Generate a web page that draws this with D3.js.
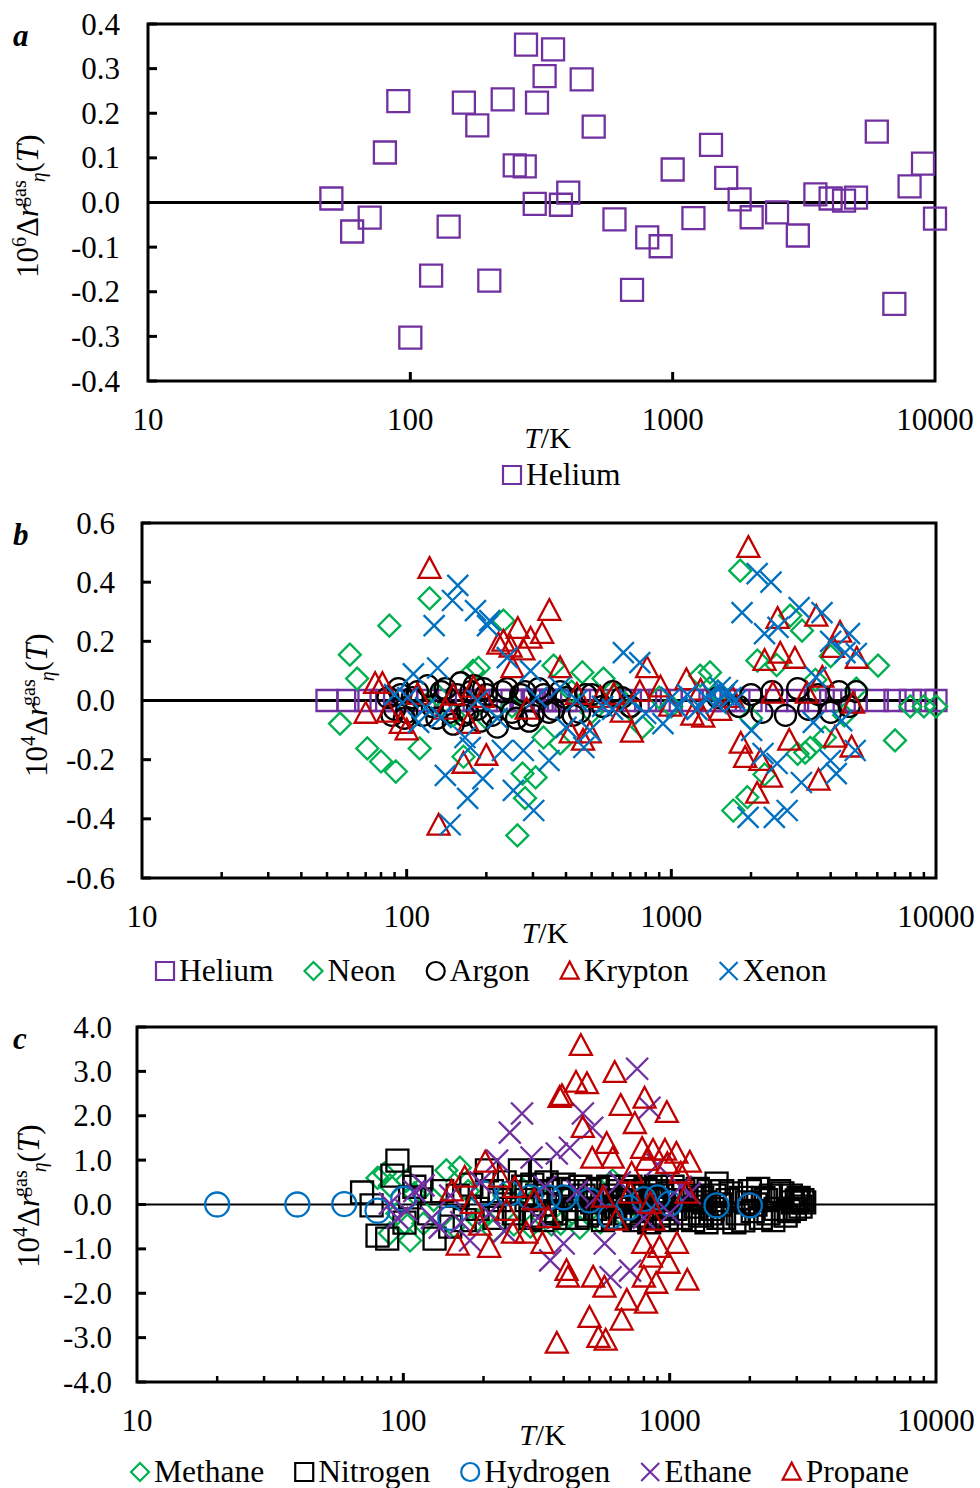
<!DOCTYPE html>
<meta charset="utf-8">
<title>Deviation plots</title>
<style>
  body { margin: 0; background: #fff; }
  text { font-family: "Liberation Serif", "Times New Roman", serif; fill: #000; }
</style>
<body>
<div id="chart"></div>
<script src="https://cdn.jsdelivr.net/npm/d3@7/dist/d3.min.js"></script>
<script>
// ---- data: [T/K, deviation] ----
const heliumA = [[50,0.009],[60,-0.065],[70,-0.034],[80,0.112],[90,0.227],[100,-0.303],[120,-0.164],[140,-0.054],[160,0.224],[180,0.173],[200,-0.175],[225,0.231],[250,0.083],[273,0.081],[276,0.354],[298,-0.003],[304,0.224],[325,0.283],[350,0.343],[375,-0.005],[400,0.022],[450,0.276],[500,0.170],[600,-0.038],[700,-0.196],[800,-0.078],[900,-0.098],[1000,0.074],[1200,-0.035],[1400,0.129],[1600,0.055],[1800,0.007],[2000,-0.033],[2500,-0.022],[3000,-0.074],[3500,0.018],[4000,0.009],[4500,0.004],[5000,0.011],[6000,0.159],[7000,-0.227],[8000,0.036],[9000,0.087],[10000,-0.036]];

const heliumB = [[50,0],[60,0],[70,0],[80,0],[90,0],[100,0],[120,0],[140,0],[160,0],[180,0],[200,0],[225,0],[250,0],[273,0],[276,0],[298,0],[304,0],[325,0],[350,0],[375,0],[400,0],[450,0],[500,0],[600,0],[700,0],[800,0],[900,0],[1000,0],[1200,0],[1400,0],[1600,0],[1800,0],[2000,0],[2500,0],[3000,0],[3500,0],[4000,0],[4500,0],[5000,0],[6000,0],[7000,0],[8000,0],[9000,0],[10000,0]];

const neon = [[56,-0.078],[61,0.155],[65,0.074],[71,-0.162],[80,-0.206],[86,0.253],[91,-0.24],[112,-0.162],[122,0.345],[130,0.02],[150,-0.05],[164,-0.19],[178,0.10],[187,0.11],[200,-0.06],[232,0.27],[250,-0.02],[262,-0.456],[274,-0.247],[280,-0.33],[307,-0.26],[329,-0.125],[359,0.118],[380,-0.145],[420,0.03],[461,0.095],[500,-0.04],[554,0.074],[620,0.02],[700,-0.03],[778,-0.09],[900,0.01],[1000,-0.02],[1285,0.084],[1400,0.095],[1500,0.03],[1714,-0.372],[1820,0.439],[1937,-0.327],[2000,-0.06],[2113,0.135],[2250,-0.25],[2500,0.12],[2812,0.287],[3000,-0.18],[3117,0.236],[3206,-0.176],[3350,-0.16],[3500,0.07],[3800,-0.125],[4000,0.15],[4500,-0.05],[5000,0.04],[6040,0.118],[7000,-0.135],[8000,-0.02],[9000,-0.02],[10000,-0.02]];

const argon = [[85,0.01],[88,-0.05],[90,-0.03],[93,0.04],[95,0.02],[98,-0.06],[100,-0.04],[105,0.01],[110,0.03],[115,-0.05],[120,0.05],[125,-0.02],[130,-0.06],[135,0.03],[140,0.04],[145,-0.04],[150,-0.08],[155,0.02],[160,0.06],[165,-0.05],[170,-0.04],[175,0.03],[180,0.05],[185,-0.03],[190,-0.07],[195,0.04],[200,0.02],[210,-0.05],[220,-0.09],[230,0.03],[240,0.04],[250,-0.04],[260,-0.06],[270,0.02],[280,0.03],[290,-0.07],[300,-0.05],[315,0.04],[330,0.02],[345,-0.04],[360,-0.03],[380,0.03],[400,0.01],[425,-0.05],[450,-0.04],[475,0.02],[500,0.02],[550,-0.02],[600,0.03],[650,0.01],[700,-0.02],[1500,0.01],[1800,-0.02],[2000,0.02],[2200,-0.04],[2400,0.03],[2700,-0.05],[3000,0.04],[3300,-0.03],[3600,0.02],[4000,-0.04],[4300,0.03],[4700,-0.02],[5000,0.03]];

const krypton = [[70,-0.044],[76,0.057],[81,0.057],[85,-0.04],[95,-0.078],[100,-0.1],[110,0.02],[122,0.446],[132,-0.422],[140,-0.03],[150,0.017],[164,-0.213],[171,-0.078],[179,0.044],[194,0.01],[200,-0.186],[222,0.19],[232,0.2],[247,0.18],[251,0.11],[263,0.243],[276,0.17],[284,-0.03],[294,0.21],[325,0.226],[346,0.304],[380,0.11],[417,-0.11],[440,0.02],[464,-0.135],[492,-0.11],[540,0.01],[606,0.02],[650,-0.04],[710,-0.108],[760,0.03],[810,0.11],[910,0.045],[990,-0.02],[1140,0.07],[1200,-0.05],[1290,0.034],[1320,-0.057],[1530,-0.034],[1700,0.01],[1830,-0.145],[1900,-0.193],[1955,0.517],[2110,-0.314],[2170,-0.203],[2250,0.135],[2380,-0.26],[2420,0.024],[2520,0.277],[2580,0.159],[2790,-0.135],[2930,0.142],[3250,0.024],[3530,0.284],[3600,-0.27],[3720,0.078],[4080,0.179],[4150,-0.125],[4340,0.23],[4800,-0.158],[4860,-0.01],[5020,0.142]];

const xenon = [[90,0.02],[101,0.01],[106,0.09],[111,-0.074],[118,-0.024],[127,0.253],[131,0.11],[135,-0.057],[140,-0.253],[146,-0.42],[149,0.338],[156,0.389],[166,-0.125],[170,-0.331],[174,-0.159],[182,0.304],[185,0.0],[194,-0.264],[202,0.253],[206,0.27],[220,-0.06],[230,-0.169],[240,0.145],[253,-0.304],[276,-0.169],[294,0.10],[302,-0.372],[310,0.01],[345,-0.203],[380,0.044],[400,-0.091],[440,0.0],[467,-0.159],[492,-0.101],[550,-0.02],[600,-0.03],[659,0.162],[700,0.0],[760,0.128],[800,-0.044],[930,-0.078],[1000,0.01],[1050,-0.024],[1150,0.02],[1250,-0.03],[1350,0.01],[1420,0.024],[1480,-0.01],[1530,0.044],[1580,0.02],[1630,0.034],[1680,0.01],[1750,0.0],[1850,0.297],[1950,-0.395],[2010,-0.101],[2110,0.429],[2220,-0.179],[2250,0.226],[2380,0.40],[2450,-0.395],[2510,-0.213],[2530,0.247],[2740,-0.372],[3040,0.314],[3100,-0.277],[3440,-0.074],[3520,0.078],[3710,0.297],[3990,-0.203],[4000,0.2],[4200,-0.247],[4400,-0.068],[4530,0.162],[4710,0.226],[4950,-0.169],[5000,0.159]];

const methane = [[80,0.6],[85,0.7],[89,0.43],[89,-0.65],[95,-0.2],[101,-0.41],[103,0.54],[106,-0.81],[110,0.25],[119,-0.43],[130,0.1],[145,0.77],[155,-0.5],[163,0.83],[175,0.3],[190,-0.35],[200,-0.29],[218,-0.59],[240,0.2],[260,-0.45],[280,0.35],[300,-0.5],[330,0.15],[360,-0.45],[390,-0.43],[420,0.2],[460,-0.52],[500,0.1],[550,-0.4],[610,0.54],[680,-0.3],[750,0.38],[820,-0.2],[900,0.15],[1000,-0.1]];

const nitrogen = [[70,0.27],[76,-0.02],[80,-0.7],[87,-0.77],[91,0.65],[95,0.99],[101,-0.41],[106,0.16],[110,0.4],[117,0.61],[125,-0.2],[131,-0.77],[140,0.3],[150,-0.5],[160,0.2],[170,-0.35],[180,0.45],[190,-0.1],[206,0.77],[215,0.3],[220,-0.3],[230,0.1],[240,0.5],[250,-0.1],[260,-0.2],[274,0.77],[282,0.4],[290,0.1],[300,-0.3],[305,0.45],[310,-0.25],[318,0.2],[326,0.77],[333,-0.35],[340,0.0],[345,0.5],[350,0.3],[360,-0.15],[375,-0.2],[382,0.35],[390,0.15],[400,0.45],[410,-0.3],[425,0.1],[432,0.3],[440,-0.1],[450,-0.3],[462,0.4],[475,0.2],[488,-0.25],[500,0.3],[512,0.05],[525,-0.1],[537,0.35],[550,-0.2],[562,-0.35],[575,0.1],[588,0.4],[600,0.2],[612,-0.3],[625,-0.05],[638,0.3],[650,-0.3],[662,0.05],[675,0.1],[688,-0.2],[700,0.25],[712,0.4],[725,-0.1],[738,-0.35],[750,-0.25],[762,0.3],[775,0.05],[788,-0.15],[800,0.2],[812,0.35],[825,-0.1],[838,-0.4],[850,-0.3],[862,0.15],[875,0.1],[888,0.4],[900,0.3],[912,-0.25],[925,-0.05],[938,0.2],[950,-0.2],[975,-0.35],[1000,0.25],[1025,0.4],[1050,-0.1],[1075,0.1],[1100,-0.3],[1125,0.3],[1150,0.1],[1175,-0.2],[1200,0.2],[1225,-0.35],[1250,-0.05],[1275,0.35],[1300,-0.25],[1325,0.15],[1350,0.05],[1375,-0.4],[1400,0.3],[1425,-0.2],[1450,-0.1],[1475,0.2],[1500,0.47],[1525,-0.3],[1550,0.0],[1575,0.3],[1600,-0.3],[1650,0.1],[1700,0.25],[1750,-0.4],[1800,-0.2],[1850,0.15],[1890,-0.36],[1950,0.05],[2000,0.3],[2050,-0.15],[2100,0.0],[2150,0.35],[2200,-0.3],[2250,0.15],[2300,0.1],[2350,-0.2],[2400,0.2],[2450,-0.35],[2500,-0.1],[2575,0.3],[2650,0.25],[2725,-0.25],[2800,-0.15],[2850,0.2],[2900,0.05],[2950,-0.1],[3000,0.09],[3050,0.15],[3100,-0.05],[3150,0.1],[3200,0.05]];

const hydrogen = [[20,0],[40,0],[60,0.01],[80,-0.14],[100,0.13],[150,-0.3],[200,0.25],[250,0.25],[300,0.16],[350,0.16],[400,0.16],[500,0.09],[600,-0.28],[700,-0.07],[800,0.12],[900,0.16],[1000,0.02],[1500,-0.02],[2000,-0.02]];

const ethane = [[89,0.02],[95,-0.3],[103,-0.14],[110,0.3],[119,0.43],[128,-0.3],[137,-0.52],[150,0.2],[165,-0.4],[178,-0.81],[195,0.5],[210,-0.2],[225,0.99],[240,-0.6],[251,1.62],[279,2.05],[303,1.06],[320,-0.3],[340,0.4],[356,-1.26],[377,1.15],[400,-0.88],[422,1.28],[450,0.3],[472,2.05],[512,1.73],[530,0.16],[570,-0.88],[600,-1.64],[650,0.5],[710,-1.49],[755,3.06],[800,-0.3],[840,2.18],[900,0.9],[1000,-0.2],[1100,0.4],[1190,0.25]];

const propane = [[152,0.3],[160,-0.92],[170,0.61],[181,0.02],[194,-0.47],[203,0.95],[210,-0.97],[230,0.61],[244,-0.14],[258,-0.65],[262,0.38],[290,-0.65],[310,0.1],[333,-0.88],[350,-0.3],[377,-3.13],[386,2.41],[394,2.45],[410,-1.49],[415,-1.64],[445,2.75],[464,3.58],[472,1.73],[489,2.72],[500,-2.55],[512,1.04],[516,-1.64],[540,-3.0],[563,0.16],[569,-1.87],[575,-3.06],[580,1.37],[611,1.04],[622,2.97],[630,-0.36],[655,2.23],[660,-2.61],[690,-2.16],[710,0.25],[720,0.7],[740,1.82],[788,1.26],[796,-0.88],[800,-1.64],[805,2.39],[815,-2.23],[820,0.99],[845,0.02],[850,-1.19],[866,1.22],[870,-0.36],[890,-1.78],[915,-0.97],[960,1.22],[976,2.07],[980,0.92],[990,-1.33],[1060,1.15],[1065,-0.88],[1100,0.7],[1160,0.25],[1165,-1.71],[1190,0.95]];

const xTickLabels = [10, 100, 1000, 10000];
const yTicksA = [-0.4, -0.3, -0.2, -0.1, 0, 0.1, 0.2, 0.3, 0.4];
const yTicksB = [-0.6, -0.4, -0.2, 0, 0.2, 0.4, 0.6];
const yTicksC = [-4, -3, -2, -1, 0, 1, 2, 3, 4];

// ---- styling ----
const col = { purple: "#7030A0", green: "#00B050", black: "#000000", red: "#C00000", blue: "#0070C0" };

const shapes = {
  square: s => { const h = s / 2; return `M${-h},${-h}h${s}v${s}h${-s}Z`; },
  diamond: s => { const h = s / 2; return `M0,${-h}L${h},0L0,${h}L${-h},0Z`; },
  circle: s => { const r = s / 2; return `M${r},0A${r},${r} 0 1,1 ${-r},0A${r},${r} 0 1,1 ${r},0Z`; },
  triangle: s => `M0,${-0.52 * s}L${s / 2},${0.42 * s}L${-s / 2},${0.42 * s}Z`,
  cross: s => { const h = s / 2; return `M${-h},${-h}L${h},${h}M${-h},${h}L${h},${-h}`; }
};

const W = 980, H = 1488, FS = 31, TFS = 30, LFS = 31.5;

const svg = d3.select("#chart").append("svg")
  .attr("width", W).attr("height", H);

const panels = [
  {
    letter: "a", exp: "6", left: 148, right: 935, top: 24, bottom: 381,
    yDomain: [-0.4, 0.4], yTicks: yTicksA, minor: false, zeroWidth: 3,
    labelEnd: 120, ylabX: 38, ylabStart: 278, tkY: 448, legY: 485, legX: 502,
    series: [{ name: "Helium", data: heliumA, shape: "square", color: col.purple, size: 22 }]
  },
  {
    letter: "b", exp: "4", left: 142, right: 936, top: 523, bottom: 878,
    yDomain: [-0.6, 0.6], yTicks: yTicksB, minor: true, zeroWidth: 3,
    labelEnd: 115, ylabX: 47, ylabStart: 777, tkY: 943, legY: 981, legX: 155,
    series: [
      { name: "Helium", data: heliumB, shape: "square", color: col.purple, size: 21 },
      { name: "Neon", data: neon, shape: "diamond", color: col.green, size: 22 },
      { name: "Argon", data: argon, shape: "circle", color: col.black, size: 21 },
      { name: "Krypton", data: krypton, shape: "triangle", color: col.red, size: 22 },
      { name: "Xenon", data: xenon, shape: "cross", color: col.blue, size: 21 }
    ]
  },
  {
    letter: "c", exp: "4", left: 137, right: 936, top: 1027, bottom: 1382,
    yDomain: [-4, 4], yTicks: yTicksC, minor: true, zeroWidth: 2,
    labelEnd: 112, ylabX: 39, ylabStart: 1268, tkY: 1445, legY: 1482, legX: 130,
    series: [
      { name: "Methane", data: methane, shape: "diamond", color: col.green, size: 22 },
      { name: "Nitrogen", data: nitrogen, shape: "square", color: col.black, size: 22 },
      { name: "Hydrogen", data: hydrogen, shape: "circle", color: col.blue, size: 24 },
      { name: "Ethane", data: ethane, shape: "cross", color: col.purple, size: 22 },
      { name: "Propane", data: propane, shape: "triangle", color: col.red, size: 22 }
    ]
  }
];

panels.forEach(drawPanel);

function drawPanel(p) {
  const x = d3.scaleLog().domain([10, 10000]).range([p.left, p.right]);
  const y = d3.scaleLinear().domain(p.yDomain).range([p.bottom, p.top]);
  const g = svg.append("g");

  // zero line
  g.append("line")
    .attr("x1", p.left).attr("x2", p.right)
    .attr("y1", y(0)).attr("y2", y(0))
    .attr("stroke", "#000").attr("stroke-width", p.zeroWidth);

  // y ticks (inward) and labels
  g.selectAll(".yt").data(p.yTicks).join("line")
    .attr("x1", p.left).attr("x2", p.left + 9)
    .attr("y1", d => y(d)).attr("y2", d => y(d))
    .attr("stroke", "#000").attr("stroke-width", 3);
  g.selectAll(".yl").data(p.yTicks).join("text")
    .attr("x", p.labelEnd).attr("y", d => y(d) + 10.5)
    .attr("text-anchor", "end").attr("font-size", FS)
    .text(d => d.toFixed(1));

  // x ticks (inward, upward)
  const major = [100, 1000];
  const minor = [];
  if (p.minor) {
    [10, 100, 1000].forEach(dec => { for (let k = 2; k <= 9; k++) minor.push(dec * k); });
  }
  g.selectAll(".xm").data(minor).join("line")
    .attr("x1", d => x(d)).attr("x2", d => x(d))
    .attr("y1", p.bottom).attr("y2", p.bottom - 6)
    .attr("stroke", "#000").attr("stroke-width", 2.5);
  g.selectAll(".xM").data(major).join("line")
    .attr("x1", d => x(d)).attr("x2", d => x(d))
    .attr("y1", p.bottom).attr("y2", p.bottom - 9)
    .attr("stroke", "#000").attr("stroke-width", 3);
  g.selectAll(".xl").data(xTickLabels).join("text")
    .attr("x", d => x(d)).attr("y", p.bottom + 49)
    .attr("text-anchor", "middle").attr("font-size", FS)
    .text(d => d);

  // plot frame
  g.append("rect")
    .attr("x", p.left).attr("y", p.top)
    .attr("width", p.right - p.left).attr("height", p.bottom - p.top)
    .attr("fill", "none").attr("stroke", "#000").attr("stroke-width", 3);

  // markers
  p.series.forEach(s => {
    g.append("g").selectAll("path").data(s.data).join("path")
      .attr("d", shapes[s.shape](s.size))
      .attr("transform", d => `translate(${x(d[0])},${y(d[1])})`)
      .attr("fill", "none").attr("stroke", s.color).attr("stroke-width", 2.3);
  });

  // panel letter
  g.append("text").attr("x", 13).attr("y", p.top + 22)
    .attr("font-size", FS).attr("font-weight", "bold").attr("font-style", "italic")
    .text(p.letter);

  // x title T/K
  const xt = g.append("text").attr("x", (x(100) + x(1000)) / 2 + 6).attr("y", p.tkY)
    .attr("text-anchor", "middle").attr("font-size", TFS);
  xt.append("tspan").attr("font-style", "italic").text("T");
  xt.append("tspan").text("/K");

  // y title 10^nΔr^gas_η(T)
  const yt = g.append("text")
    .attr("transform", "rotate(-90)")
    .attr("x", -p.ylabStart).attr("y", p.ylabX)
    .attr("font-size", FS);
  yt.append("tspan").text("10");
  yt.append("tspan").attr("font-size", 20).attr("dy", -12).text(p.exp);
  yt.append("tspan").attr("dy", 12).text("Δ");
  yt.append("tspan").attr("font-style", "italic").text("r");
  yt.append("tspan").attr("font-size", 20).attr("dy", -12).attr("dx", -2).text("gas");
  yt.append("tspan").attr("font-size", 20).attr("font-style", "italic").attr("dy", 19).attr("dx", -2).text("η");
  yt.append("tspan").attr("dy", -7).text("(");
  yt.append("tspan").attr("font-style", "italic").text("T");
  yt.append("tspan").text(")");

  // legend
  let cx = p.legX;
  p.series.forEach(s => {
    const ms = 18;
    g.append("path")
      .attr("d", shapes[s.shape](ms))
      .attr("transform", `translate(${cx + ms / 2 + 1},${p.legY - 10})`)
      .attr("fill", "none").attr("stroke", s.color).attr("stroke-width", 2.2);
    const t = g.append("text").attr("x", cx + ms + 6).attr("y", p.legY)
      .attr("font-size", LFS).text(s.name);
    cx += ms + 6 + t.node().getComputedTextLength() + 30;
  });
}
</script>
</body>
